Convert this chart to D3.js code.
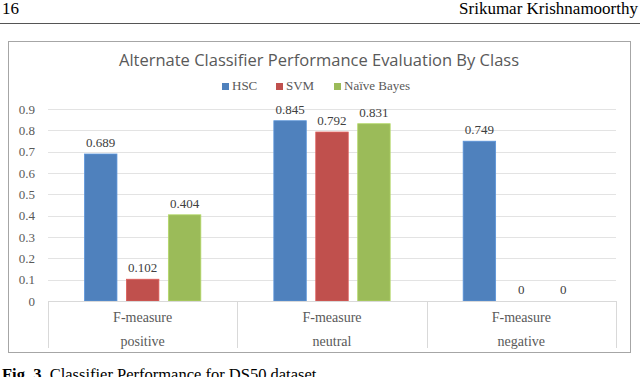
<!DOCTYPE html>
<html>
<head>
<meta charset="utf-8">
<script src="https://cdn.jsdelivr.net/npm/d3@7"></script>
<style>
  body { margin: 0; background: #fff; }
  svg { display: block; }
</style>
</head>
<body>
<div id="chart"></div>
<script>
// Chart data
var categories = ["positive", "neutral", "negative"];
var seriesNames = ["HSC", "SVM", "Naïve Bayes"];
var hscValues = [0.689, 0.845, 0.749];
var svmValues = [0.102, 0.792, 0];
var nbValues = [0.404, 0.831, 0];
var yTicks = [0, 0.1, 0.2, 0.3, 0.4, 0.5, 0.6, 0.7, 0.8, 0.9];
var measureLabel = "F-measure";

var colors = ["#4f81bd", "#c0504d", "#9bbb59"];
var allValues = [hscValues, svmValues, nbValues];

var W = 640, H = 377;
var margin = {top: 109, right: 24, bottom: 76, left: 48};
var width = W - margin.left - margin.right,
    height = 301 - margin.top;

var svg = d3.select("#chart")
    .append("svg")
    .attr("width", W)
    .attr("height", H);

// Page header (paper page)
svg.append("text")
    .attr("x", 2).attr("y", 14)
    .style("font-family", "'Liberation Serif', serif")
    .style("font-size", "17px")
    .text("16");
svg.append("text")
    .attr("x", 638).attr("y", 14)
    .attr("text-anchor", "end")
    .style("font-family", "'Liberation Serif', serif")
    .style("font-size", "17px")
    .text("Srikumar Krishnamoorthy");
svg.append("line")
    .attr("x1", 0).attr("x2", 640)
    .attr("y1", 23.5).attr("y2", 23.5)
    .attr("stroke", "#555").attr("stroke-width", 1.2);

// Chart frame
svg.append("rect")
    .attr("x", 8.5).attr("y", 41.5)
    .attr("width", 622).attr("height", 311)
    .attr("fill", "#fff")
    .attr("stroke", "#a6a6a6");

// Title
svg.append("text")
    .attr("x", 319).attr("y", 66)
    .attr("text-anchor", "middle")
    .style("font-family", "'Open Sans', sans-serif")
    .style("font-size", "16.5px")
    .style("fill", "#595959")
    .text("Alternate Classifier Performance Evaluation By Class");

// Legend
var legendX = [222, 276, 334];
var legend = svg.append("g");
seriesNames.forEach(function(name, i) {
    legend.append("rect")
        .attr("x", legendX[i]).attr("y", 83)
        .attr("width", 7).attr("height", 7)
        .attr("fill", colors[i]);
    legend.append("text")
        .attr("x", legendX[i] + 10).attr("y", 90)
        .style("font-family", "'Liberation Serif', serif")
        .style("font-size", "13px")
        .style("fill", "#595959")
        .text(name);
});

var g = svg.append("g")
    .attr("transform", "translate(" + margin.left + "," + margin.top + ")");

var x0 = d3.scaleBand()
    .domain(categories)
    .range([0, width])
    .paddingInner(0)
    .paddingOuter(0);

var x1 = d3.scaleBand()
    .domain(seriesNames)
    .range([36.5, x0.bandwidth() - 36.5])
    .paddingInner(0.226);

var y = d3.scaleLinear()
    .domain([0, 0.9])
    .range([height, 0]);

// Gridlines
g.selectAll("gridLine")
    .data(yTicks.slice(1))
    .enter()
    .append("line")
    .attr("x1", 0).attr("x2", width)
    .attr("y1", d => Math.round(y(d)) + 0.5)
    .attr("y2", d => Math.round(y(d)) + 0.5)
    .attr("stroke", "#e3e3e3");

// Y axis labels
var yAxis = d3.axisLeft(y)
    .tickValues(yTicks)
    .tickSize(0)
    .tickPadding(13)
    .tickFormat(d => d === 0 ? "0" : d3.format(".1f")(d));
var yg = g.append("g").call(yAxis);
yg.select(".domain").remove();
yg.selectAll("text")
    .style("font-family", "'Liberation Serif', serif")
    .style("font-size", "13px")
    .style("fill", "#595959");

// Bars
var rows = categories.map((c, ci) => ({
    cat: c,
    vals: seriesNames.map((s, si) => ({ name: s, value: allValues[si][ci], color: colors[si] }))
}));

var groups = g.selectAll(".group")
    .data(rows)
    .enter()
    .append("g")
    .attr("transform", d => "translate(" + x0(d.cat) + ",0)");

groups.selectAll("rect")
    .data(d => d.vals)
    .enter()
    .append("rect")
    .attr("x", d => x1(d.name))
    .attr("y", d => y(d.value))
    .attr("width", x1.bandwidth())
    .attr("height", d => height - y(d.value))
    .attr("fill", d => d.color)
    .attr("stroke", d => d3.color(d.color).brighter(0.4))
    .attr("stroke-width", 0.8);

groups.selectAll("valueLabel")
    .data(d => d.vals)
    .enter()
    .append("text")
    .attr("x", d => x1(d.name) + x1.bandwidth() / 2)
    .attr("y", d => y(d.value) - 7)
    .attr("text-anchor", "middle")
    .style("font-family", "'Liberation Serif', serif")
    .style("font-size", "13px")
    .style("fill", "#404040")
    .text(d => d.value === 0 ? "0" : d3.format(".3f")(d.value));

// Category axis
g.append("line")
    .attr("x1", 0).attr("x2", width)
    .attr("y1", height + 0.5).attr("y2", height + 0.5)
    .attr("stroke", "#d9d9d9");

var seps = [0].concat(categories.map(c => x0(c) + x0.bandwidth()));
g.selectAll("sepLine")
    .data(seps)
    .enter()
    .append("line")
    .attr("x1", d => Math.round(d) + 0.5)
    .attr("x2", d => Math.round(d) + 0.5)
    .attr("y1", height)
    .attr("y2", height + 47)
    .attr("stroke", "#d9d9d9");

g.selectAll("measureLabel")
    .data(categories)
    .enter()
    .append("text")
    .attr("x", d => x0(d) + x0.bandwidth() / 2)
    .attr("y", height + 21)
    .attr("text-anchor", "middle")
    .style("font-family", "'Liberation Serif', serif")
    .style("font-size", "14px")
    .style("fill", "#595959")
    .text(measureLabel);

g.selectAll("catLabel")
    .data(categories)
    .enter()
    .append("text")
    .attr("x", d => x0(d) + x0.bandwidth() / 2)
    .attr("y", height + 45)
    .attr("text-anchor", "middle")
    .style("font-family", "'Liberation Serif', serif")
    .style("font-size", "14px")
    .style("fill", "#595959")
    .text(d => d);

// Caption (cut by page edge, as in the source page)
var cap = svg.append("text")
    .attr("x", 2).attr("y", 380)
    .style("font-family", "'Liberation Serif', serif")
    .style("font-size", "16.5px");
cap.append("tspan").style("font-weight", "bold").text("Fig. 3.");
cap.append("tspan").text(" Classifier Performance for DS50 dataset");
</script>
</body>
</html>
